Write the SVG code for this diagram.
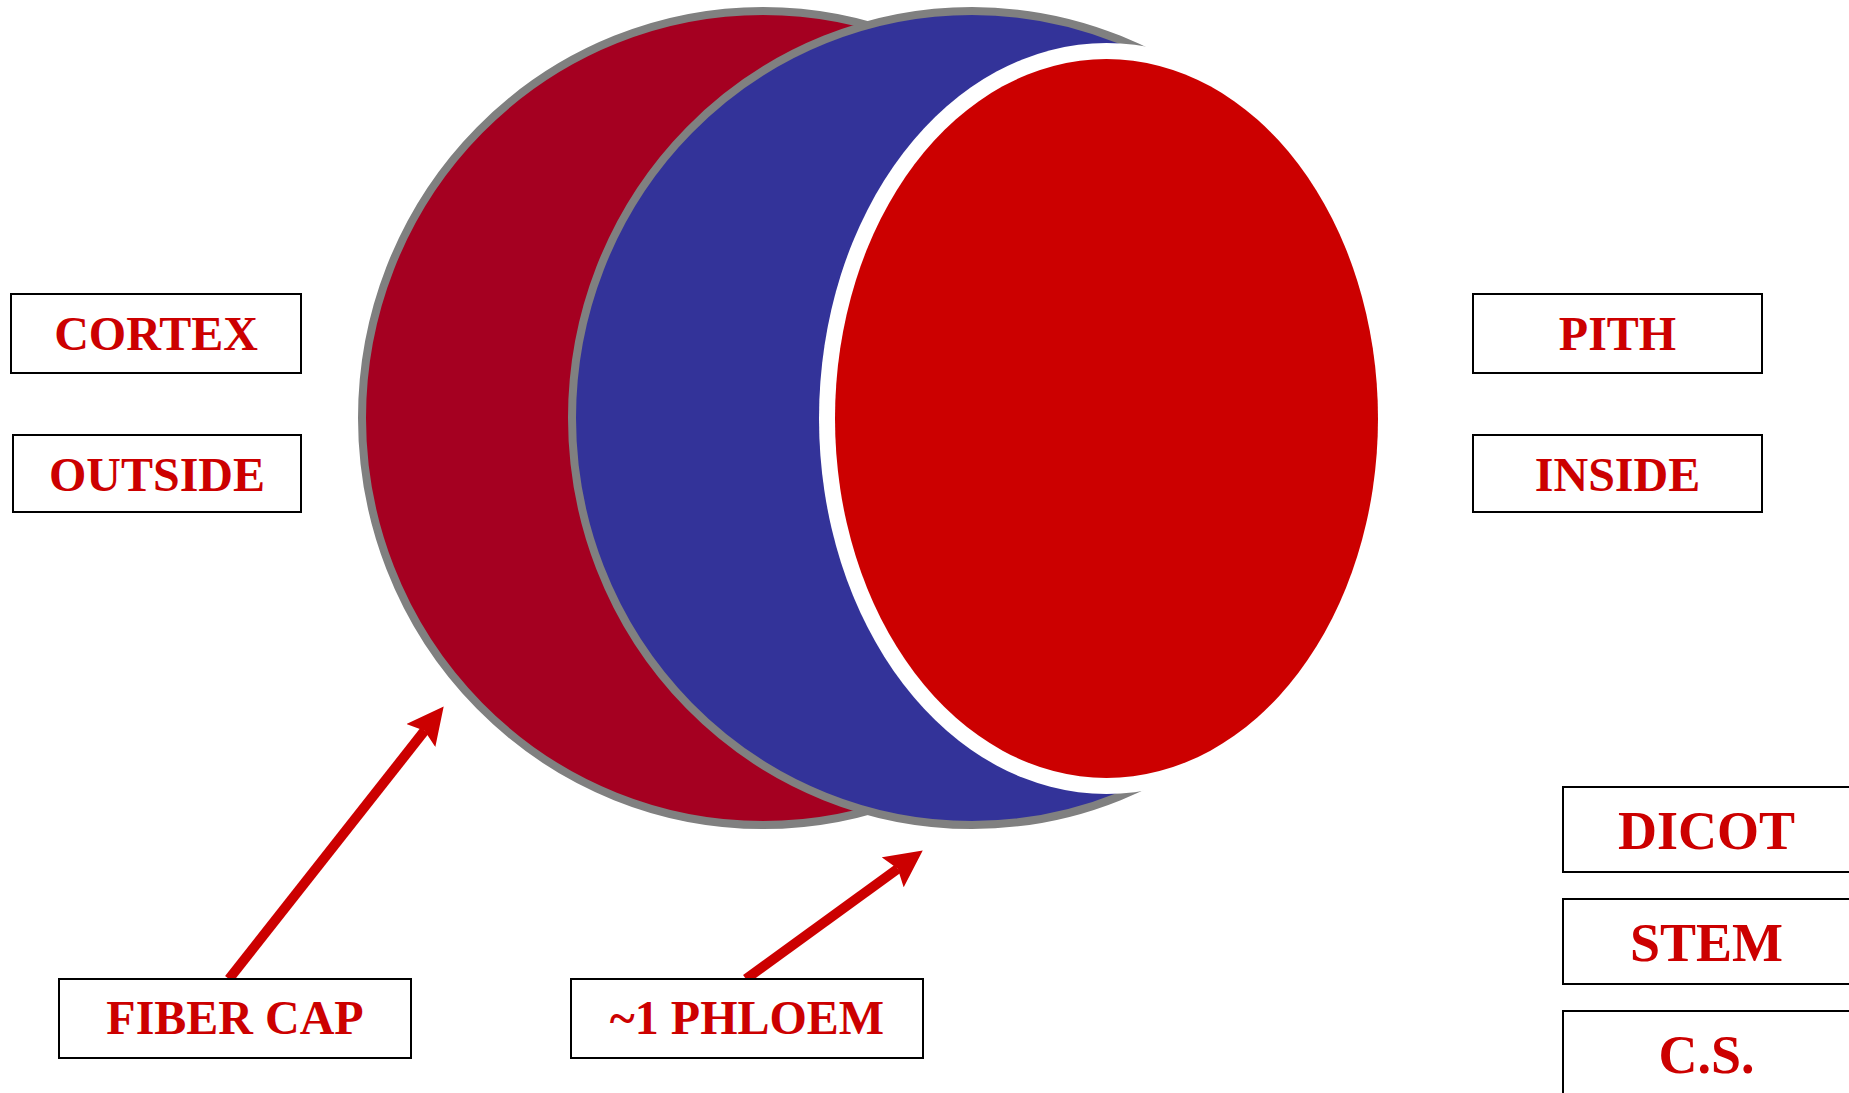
<svg xmlns="http://www.w3.org/2000/svg" width="1849" height="1093" viewBox="0 0 1849 1093">
<style>
.box{fill:#FFFFFF;stroke:#000000;stroke-width:2}
.lbl{font-family:"Liberation Serif","Times New Roman",serif;font-weight:bold;fill:#CC0000;text-anchor:middle}
.s48{font-size:48px}
.s54{font-size:54px}
.ring{stroke:#808080;stroke-width:8}
.arrow{stroke:#CC0000;stroke-width:10;fill:none}
</style>
<defs>
<marker id="head" markerUnits="userSpaceOnUse" markerWidth="37" markerHeight="37" viewBox="0 0 36 36" refX="6" refY="18" orient="auto">
<path d="M0,0 L36,18 L0,36 L6,18 Z" fill="#CC0000"/>
</marker>
</defs>
<rect width="1849" height="1093" fill="#FFFFFF"/>
<g id="stem-section">
<ellipse id="fiber-cap-layer" cx="763" cy="418" rx="401" ry="407" fill="#A50021" class="ring"/>
<ellipse id="phloem-layer" cx="972" cy="418" rx="400" ry="407" fill="#333399" class="ring"/>
<ellipse cx="1106.5" cy="418.5" rx="287.5" ry="375.5" fill="#FFFFFF"/>
<ellipse id="pith-layer" cx="1106.5" cy="418.5" rx="271.5" ry="359.5" fill="#CC0000"/>
</g>
<g id="connectors">
<line class="arrow" x1="229" y1="979" x2="424.6" y2="730.7" marker-end="url(#head)"/>
<line class="arrow" x1="746" y1="979" x2="897.8" y2="868.7" marker-end="url(#head)"/>
</g>
<g id="cortex"><rect class="box" x="11" y="294" width="290" height="79"/><text class="lbl s48" x="156" y="350">CORTEX</text></g>
<g id="outside"><rect class="box" x="13" y="435" width="288" height="77"/><text class="lbl s48" x="157" y="491">OUTSIDE</text></g>
<g id="pith"><rect class="box" x="1473" y="294" width="289" height="79"/><text class="lbl s48" x="1617.5" y="350">PITH</text></g>
<g id="inside"><rect class="box" x="1473" y="435" width="289" height="77"/><text class="lbl s48" x="1617.5" y="491">INSIDE</text></g>
<g id="fiber-cap"><rect class="box" x="59" y="979" width="352" height="79"/><text class="lbl s48" x="235" y="1034">FIBER CAP</text></g>
<g id="phloem"><rect class="box" x="571" y="979" width="352" height="79"/><text class="lbl s48" x="747" y="1034">~1 PHLOEM</text></g>
<g id="dicot"><rect class="box" x="1563" y="787" width="290" height="85"/><text class="lbl s54" x="1706.5" y="849">DICOT</text></g>
<g id="stem"><rect class="box" x="1563" y="899" width="290" height="85"/><text class="lbl s54" x="1706.5" y="961">STEM</text></g>
<g id="cs"><rect class="box" x="1563" y="1011" width="290" height="90"/><text class="lbl s54" x="1706.5" y="1073">C.S.</text></g>
</svg>
